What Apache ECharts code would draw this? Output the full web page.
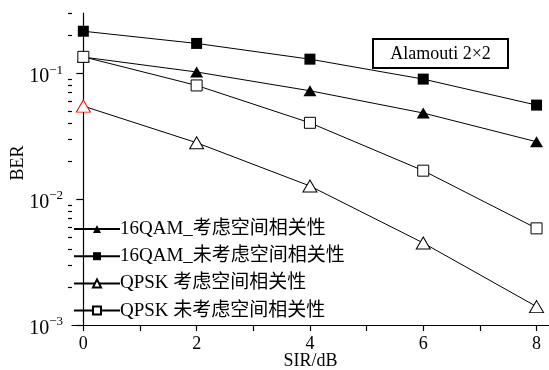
<!DOCTYPE html>
<html>
<head>
<meta charset="utf-8">
<script src="https://cdn.jsdelivr.net/npm/echarts@6/dist/echarts.min.js"></script>
<style>
  html, body { margin: 0; padding: 0; background: #fff; }
  #chart { width: 549px; height: 370px; }
</style>
</head>
<body>
<div id="chart"></div>
<script>
// 横轴 SIR/dB
let sirValues = [0, 2, 4, 6, 8];
let xTickValues = [0, 1, 2, 3, 4, 5, 6, 7, 8];
let xLabelValues = [0, 2, 4, 6, 8];

// 纵轴刻度
let yMajorTicks = [0.001, 0.01, 0.1];
let yMinorTicks = [0.002, 0.003, 0.004, 0.005, 0.006, 0.007, 0.008, 0.009,
    0.02, 0.03, 0.04, 0.05, 0.06, 0.07, 0.08, 0.09, 0.2, 0.3];
let yLabelText = { 0.001: '−3', 0.01: '−2', 0.1: '−1' };

// BER 曲线
let seriesNames = ['16QAM_考虑空间相关性', '16QAM_未考虑空间相关性', 'QPSK 考虑空间相关性', 'QPSK 未考虑空间相关性'];
let ber16qamCorr = [0.134, 0.102, 0.0724, 0.0482, 0.0285];
let ber16qamNoCorr = [0.215, 0.172, 0.129, 0.0896, 0.0557];
let berQpskCorr = [0.0547, 0.028, 0.0127, 0.00448, 0.0014];
let berQpskNoCorr = [0.1346, 0.0798, 0.0403, 0.0168, 0.00585];

const FONT = "'Liberation Serif', 'Noto Sans CJK SC', serif";

function pairs(arr) {
    return arr.map((v, i) => [sirValues[i], v]);
}

let chart = echarts.init(document.getElementById('chart'), null, { renderer: 'canvas' });

const option = {
    backgroundColor: '#fff',
    animation: false,
    grid: { left: 72, right: 0, top: 13, bottom: 45, containLabel: false, outerBoundsMode: 'none' },
    legend: {
        orient: 'vertical',
        left: 73,
        top: 219,
        itemWidth: 46,
        itemHeight: 10,
        itemGap: 7.2,
        padding: 0,
        textStyle: { fontFamily: FONT, fontSize: 19, color: '#000', lineHeight: 20, padding: [0, 0, 0, -5] },
        data: seriesNames
    },
    xAxis: {
        type: 'value',
        min: -0.2,
        max: 8.22,
        name: 'SIR/dB',
        nameLocation: 'middle',
        nameGap: 27,
        nameMoveOverlap: false,
        nameTextStyle: { fontFamily: FONT, fontSize: 18, color: '#000' },
        axisLine: { lineStyle: { color: '#000', width: 1.2 } },
        axisTick: { customValues: xTickValues, length: 6, lineStyle: { color: '#000', width: 1.2 } },
        axisLabel: { customValues: xLabelValues, fontFamily: FONT, fontSize: 18, color: '#000', margin: 10 },
        splitLine: { show: false }
    },
    yAxis: [
        {
            type: 'log',
            min: 0.001,
            max: 0.3,
            axisLine: { lineStyle: { color: '#000', width: 1.2 } },
            axisTick: { customValues: yMajorTicks, length: 7, lineStyle: { color: '#000', width: 1.2 } },
            axisLabel: {
                customValues: yMajorTicks,
                margin: 9,
                formatter: function (v) {
                    return '{a|10}{b|' + yLabelText[v] + '}';
                },
                rich: {
                    a: { fontFamily: FONT, fontSize: 20, color: '#000', padding: [8, 0, 0, 0] },
                    b: { fontFamily: FONT, fontSize: 13, color: '#000', padding: [0, 0, 6, 0] }
                }
            },
            splitLine: { show: false }
        },
        {
            type: 'log',
            min: 0.001,
            max: 0.3,
            position: 'left',
            axisLine: { show: false },
            axisTick: { customValues: yMinorTicks, length: 4, lineStyle: { color: '#000', width: 1.2 } },
            axisLabel: { show: false },
            splitLine: { show: false }
        }
    ],
    graphic: [
        {
            type: 'text',
            x: 18,
            y: 163,
            rotation: Math.PI / 2,
            style: { text: 'BER', fontFamily: FONT, fontSize: 18, fill: '#000', align: 'center', verticalAlign: 'middle' }
        },
        {
            type: 'group',
            left: 372,
            top: 38,
            children: [
                { type: 'rect', shape: { x: 0, y: 0, width: 135, height: 29 }, style: { fill: '#fff', stroke: '#000', lineWidth: 2 } },
                { type: 'text', style: { x: 67.5, y: 15, text: 'Alamouti 2×2', fontFamily: FONT, fontSize: 18, fill: '#000', align: 'center', verticalAlign: 'middle' } }
            ]
        }
    ],
    series: [
        {
            name: seriesNames[0],
            type: 'line',
            data: pairs(ber16qamCorr),
            symbol: 'triangle',
            symbolSize: [13, 11],
            itemStyle: { color: '#000' },
            lineStyle: { color: '#000', width: 1 }
        },
        {
            name: seriesNames[1],
            type: 'line',
            data: pairs(ber16qamNoCorr),
            symbol: 'rect',
            symbolSize: 11,
            itemStyle: { color: '#000' },
            lineStyle: { color: '#000', width: 1 }
        },
        {
            name: seriesNames[2],
            type: 'line',
            data: pairs(berQpskCorr).map((p, i) => i === 0
                ? { value: p, itemStyle: { borderColor: '#ff0000' } }
                : p),
            symbol: 'triangle',
            symbolSize: [14, 12],
            itemStyle: { color: '#fff', borderColor: '#000', borderWidth: 1 },
            lineStyle: { color: '#000', width: 1 }
        },
        {
            name: seriesNames[3],
            type: 'line',
            data: pairs(berQpskNoCorr),
            symbol: 'rect',
            symbolSize: 11,
            itemStyle: { color: '#fff', borderColor: '#000', borderWidth: 1 },
            lineStyle: { color: '#000', width: 1 }
        }
    ]
};
chart.setOption(option);
</script>
</body>
</html>
